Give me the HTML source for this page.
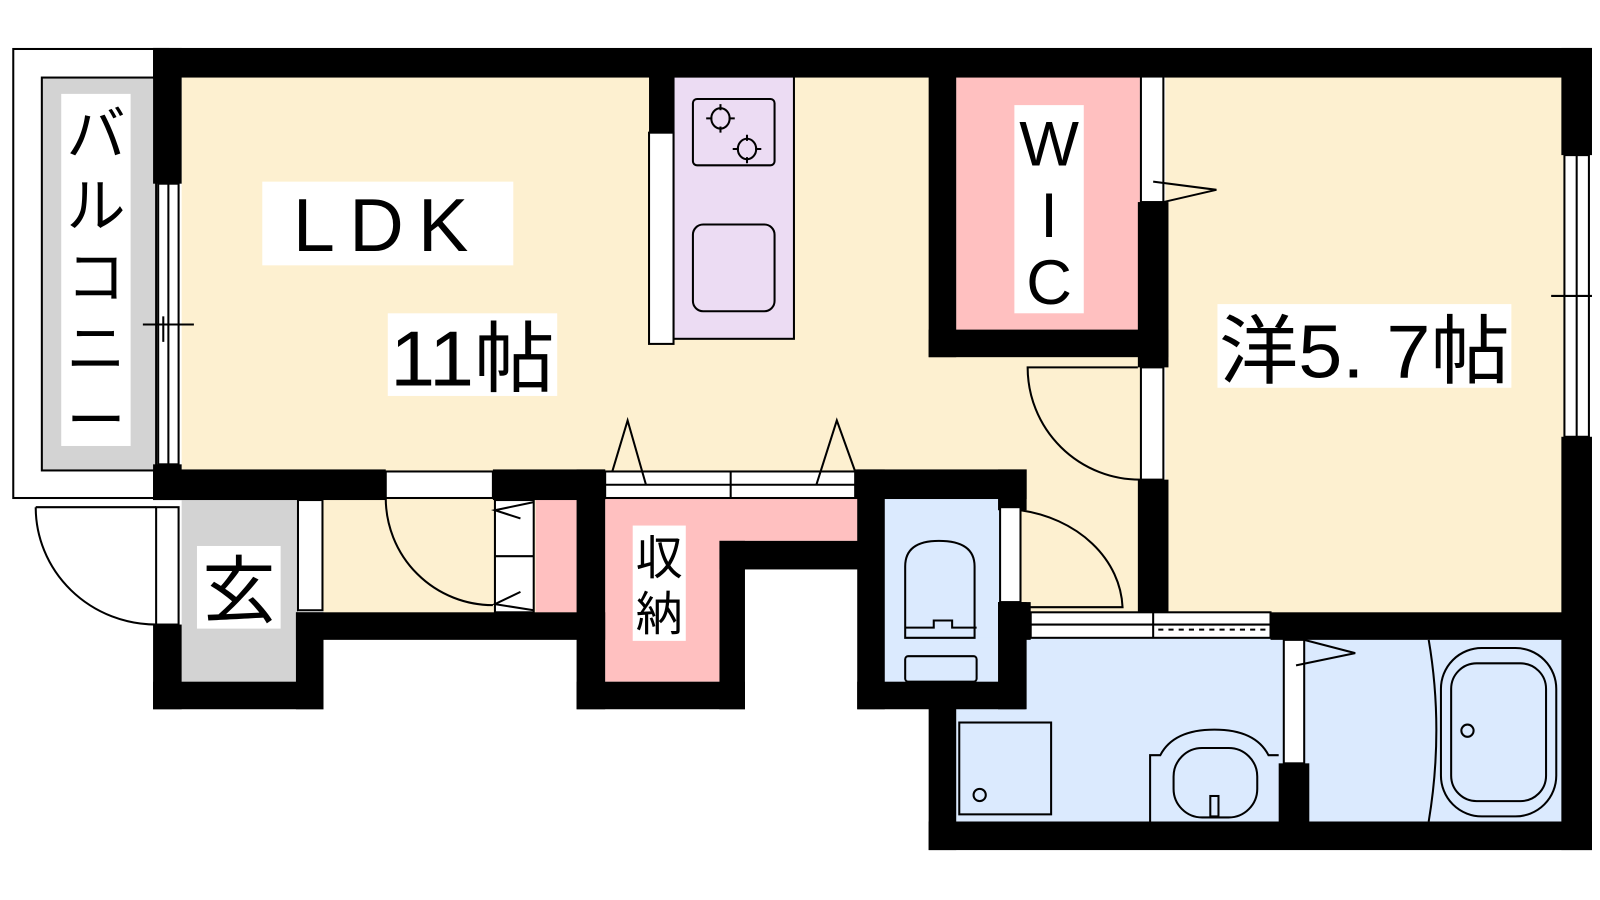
<!DOCTYPE html>
<html><head><meta charset="utf-8"><style>
html,body{margin:0;padding:0;background:#fff;width:1600px;height:900px;overflow:hidden}
svg{display:block}
text{font-family:"Liberation Sans","Noto Sans CJK JP",sans-serif;fill:#000}
</style></head><body>
<svg width="1600" height="900" viewBox="0 0 1600 900" xmlns="http://www.w3.org/2000/svg">
<g transform="scale(1.0205)">
<rect x="13" y="48" width="152" height="440" fill="#fff" stroke="#000" stroke-width="2"/>
<rect x="41" y="76" width="112" height="385" fill="#d3d3d3" stroke="#000" stroke-width="2"/>
<rect x="178" y="75" width="740" height="390" fill="#fdf0d0"/>
<rect x="900" y="345" width="230" height="260" fill="#fdf0d0"/>
<rect x="1142" y="75" width="390" height="528" fill="#fdf0d0"/>
<rect x="317" y="488" width="250" height="114" fill="#fdf0d0"/>
<rect x="937" y="75" width="180" height="250" fill="#ffc0c0"/>
<rect x="525" y="488" width="42" height="112" fill="#ffc0c0"/>
<path d="M593 488 H842 V530 H705 V668 H593 Z" fill="#ffc0c0"/>
<rect x="178" y="488" width="114" height="182" fill="#d3d3d3"/>
<rect x="865" y="487" width="115" height="182" fill="#dbeafe"/>
<rect x="935" y="625" width="597" height="182" fill="#dbeafe"/>
<rect x="660" y="75" width="118" height="257" fill="#ecdcf3" stroke="#000" stroke-width="2"/>
<rect x="679" y="97" width="80" height="65" rx="4" fill="none" stroke="#000" stroke-width="2"/>
<g fill="none" stroke="#000" stroke-width="2">
<ellipse cx="706" cy="116" rx="9" ry="10"/><path d="M706 102v6M706 124v6M692 116h6M714 116h6"/>
<ellipse cx="732" cy="146" rx="9" ry="10"/><path d="M732 132v6M732 154v6M718 146h6M740 146h6"/>
</g>
<rect x="679" y="220" width="80" height="85" rx="10" fill="none" stroke="#000" stroke-width="2"/>
<rect x="636" y="130" width="24" height="207" fill="#fff" stroke="#000" stroke-width="2"/>
<g fill="#000">
<rect x="150" y="47" width="1410" height="29"/>
<rect x="150" y="47" width="28" height="133"/>
<rect x="150" y="455" width="28" height="35"/>
<rect x="150" y="460" width="228" height="30"/>
<rect x="483" y="460" width="110" height="30"/>
<rect x="838" y="460" width="168" height="29"/>
<rect x="636" y="75" width="24" height="55"/>
<rect x="910" y="75" width="27" height="275"/>
<rect x="910" y="323" width="235" height="27"/>
<rect x="1115" y="198" width="30" height="162"/>
<rect x="1115" y="470" width="30" height="130"/>
<rect x="1530" y="47" width="30" height="105"/>
<rect x="1530" y="428" width="30" height="405"/>
<rect x="1245" y="600" width="315" height="27"/>
<rect x="150" y="612" width="28" height="83"/>
<rect x="150" y="668" width="167" height="27"/>
<rect x="290" y="600" width="27" height="95"/>
<rect x="290" y="600" width="303" height="27"/>
<rect x="565" y="460" width="28" height="235"/>
<rect x="565" y="668" width="165" height="27"/>
<rect x="705" y="530" width="25" height="165"/>
<rect x="705" y="530" width="160" height="28"/>
<rect x="840" y="460" width="27" height="235"/>
<rect x="840" y="668" width="165" height="27"/>
<rect x="978" y="460" width="28" height="40"/>
<rect x="978" y="590" width="28" height="105"/>
<rect x="978" y="590" width="32" height="37"/>
<rect x="910" y="668" width="27" height="165"/>
<rect x="910" y="805" width="650" height="28"/>
<rect x="1253" y="748" width="30" height="60"/>
</g>
<g fill="#fff" stroke="#000" stroke-width="2">
<rect x="155" y="180" width="20" height="275"/>
<rect x="1533" y="152" width="24" height="276"/>
<rect x="1118" y="75" width="22" height="123"/>
<rect x="1118" y="360" width="22" height="110"/>
<rect x="378" y="462" width="105" height="26"/>
<rect x="593" y="462" width="245" height="26"/>
<rect x="153" y="497" width="22" height="115"/>
<rect x="292" y="490" width="24" height="108"/>
<rect x="485" y="490" width="38" height="110"/>
<rect x="980" y="497" width="20" height="93"/>
<rect x="1010" y="600" width="235" height="25"/>
<rect x="1258" y="627" width="20" height="121"/>
</g>
<g fill="none" stroke="#000" stroke-width="2">
<line x1="165" y1="180" x2="165" y2="455"/>
<line x1="140" y1="318" x2="190" y2="318"/><line x1="160" y1="310" x2="160" y2="335"/>
<line x1="1545" y1="152" x2="1545" y2="428"/>
<line x1="1520" y1="290" x2="1560" y2="290"/>
<line x1="716" y1="462" x2="716" y2="488"/>
<line x1="593" y1="475" x2="838" y2="475"/>
<line x1="485" y1="545" x2="523" y2="545"/>
<line x1="1010" y1="612" x2="1245" y2="612"/>
<line x1="1130" y1="600" x2="1130" y2="625"/>
<line x1="1135" y1="617" x2="1245" y2="617" stroke-dasharray="5,5"/>
<path d="M35 497 H153 M35 497 A118 115 0 0 0 153 612"/>
<path d="M378 488 A105 105 0 0 0 483 593"/>
<path d="M1115 360 H1007 A110 110 0 0 0 1118 470"/>
<path d="M1000 500 A120 100 0 0 1 1100 595 H1000"/>
<path d="M600 462 L615 412 L633 475"/>
<path d="M800 475 L820 412 L838 462"/>
<path d="M1130 178 L1192 186 L1140 198"/>
<path d="M1270 652 L1328 640 L1278 627"/>
<path d="M523 492 L485 500 L510 508"/>
<path d="M510 580 L485 592 L523 598"/>
<path d="M887 625 V555 Q887 530 920 530 Q955 530 955 555 V625 Z"/>
<rect x="887" y="643" width="70" height="25" rx="3"/>
<path d="M887 615 H915 V608 H933 V615 H957"/>
<rect x="940" y="708" width="90" height="90"/>
<circle cx="960" cy="779" r="6"/>
<path d="M1127 805 V740 H1137 Q1150 715 1190 715 Q1230 715 1243 740 H1253"/>
<rect x="1150" y="733" width="82" height="68" rx="28"/>
<rect x="1186" y="780" width="8" height="20" fill="#dbeafe"/>
<path d="M1400 627 Q1415 715 1400 805"/>
<rect x="1412" y="635" width="113" height="165" rx="40"/>
<rect x="1422" y="650" width="93" height="135" rx="25"/>
<circle cx="1438" cy="716" r="6"/>
</g>
<rect x="60" y="92" width="68" height="345" fill="#fff"/>
<g font-size="58" text-anchor="middle">
<text x="94" y="152">バ</text><text x="94" y="222">ル</text><text x="94" y="292">コ</text><text x="94" y="362">ニ</text><text x="94" y="432">ー</text>
</g>
<rect x="257" y="178" width="246" height="82" fill="#fff"/>
<text x="380" y="246" font-size="74" text-anchor="middle" letter-spacing="14">LDK</text>
<rect x="380" y="307" width="166" height="81" fill="#fff"/>
<text x="463" y="378" font-size="76" text-anchor="middle" transform="translate(463 0) scale(1.04 1) translate(-463 0)">11帖</text>
<rect x="1193" y="298" width="288" height="82" fill="#fff"/>
<text x="1337" y="370" font-size="74" text-anchor="middle" transform="translate(1337 0) scale(1.05 1) translate(-1337 0)">洋5. 7帖</text>
<rect x="994" y="103" width="68" height="204" fill="#fff"/>
<g font-size="62" text-anchor="middle"><text x="1028" y="162">W</text><text x="1028" y="232">I</text><text x="1028" y="298">C</text></g>
<rect x="620" y="515" width="52" height="113" fill="#fff"/>
<g font-size="46" text-anchor="middle"><text x="646" y="563">収</text><text x="646" y="618">納</text></g>
<rect x="193" y="535" width="82" height="81" fill="#fff"/>
<text x="234" y="604" font-size="72" text-anchor="middle">玄</text>
</g>
</svg>
</body></html>
